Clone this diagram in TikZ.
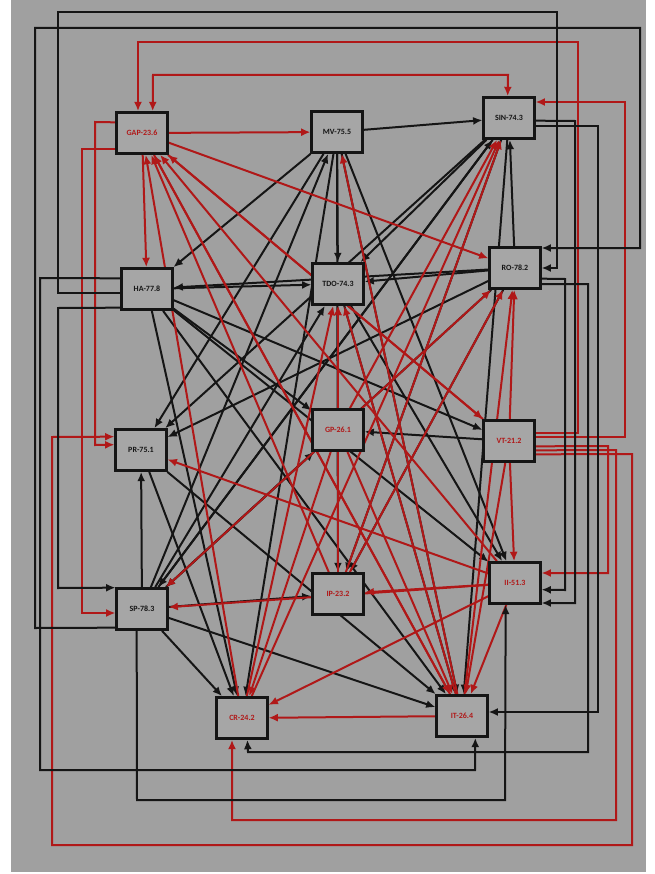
\documentclass[tikz,border=0pt]{standalone}
\usepackage{fontspec}
\setmainfont{Carlito}
\usetikzlibrary{arrows.meta,backgrounds}
\definecolor{bg}{HTML}{A0A0A0}
\definecolor{bx}{HTML}{A6A6A6}
\definecolor{rd}{HTML}{B01818}
\definecolor{bk}{HTML}{151515}
\begin{document}
\begin{tikzpicture}[x=0.75pt,y=-0.75pt,
  box/.style={draw=bk,line width=1.8pt,fill=bx,minimum width=38pt,minimum height=31pt,inner sep=0pt,font=\fontsize{6}{7}\selectfont\bfseries},
  bn/.style={box,text=bk},
  rn/.style={box,text=rd},
  be/.style={draw=bk,line width=1.5pt,-{Latex[length=7pt,width=6pt]}},
  re/.style={draw=rd,line width=1.5pt,-{Latex[length=7pt,width=6pt]}},
  rb/.style={draw=rd,line width=1.5pt,{Latex[length=7pt,width=6pt]}-{Latex[length=7pt,width=6pt]}}]
\useasboundingbox (0,0) rectangle (655,874);

\node[rn] (gap) at (142,133) {GAP-23.6};
\node[bn] (mv)  at (337,132) {MV-75.5};
\node[bn] (sin) at (509,118) {SIN-74.3};
\node[bn] (ha)  at (147,289) {HA-77.8};
\node[bn] (tdo) at (338,284) {TDO-74.3};
\node[bn] (ro)  at (515,268) {RO-78.2};
\node[bn] (pr)  at (141,450) {PR-75.1};
\node[rn] (gp)  at (338,430) {GP-26.1};
\node[rn] (vt)  at (509,441) {VT-21.2};
\node[bn] (sp)  at (142,609) {SP-78.3};
\node[rn] (ip)  at (338,594) {IP-23.2};
\node[rn] (ii)  at (515,583) {II-51.3};
\node[rn] (cr)  at (242,718) {CR-24.2};
\node[rn] (it)  at (462,716) {IT-26.4};

\begin{scope}[on background layer]
\fill[white] (0,0) rectangle (655,874);
\fill[bg] (11,0) rectangle (646,872);

% black straight connectors
\foreach \a/\b in {mv/tdo,mv/sin,mv/ha,mv/pr,mv/ip,mv/cr,mv/it,mv/ii,
  ha/tdo,ha/gp,ha/vt,ha/ii,ha/it,ha/cr,
  tdo/it,tdo/ii,
  ro/tdo,ro/sin,ro/pr,ro/sp,ro/ip,ro/ha,
  sin/tdo,sin/pr,sin/sp,sin/it,sin/ip,
  pr/cr,pr/it,
  sp/pr,sp/cr,sp/it,sp/ip,sp/mv,sp/tdo,sp/gp,sp/sin,
  vt/gp}
  \draw[be] (\a) -- (\b);

% red straight connectors
\foreach \a/\b in {gap/mv,gap/ha,gap/ro,gap/vt,gap/it,
  gp/tdo,gp/sin,gp/sp,gp/cr,gp/it,gp/ro,
  vt/ro,vt/ii,vt/it,vt/gap,
  ip/sin,ip/ro,ip/gap,ip/tdo,
  ii/pr,ii/sp,ii/cr,ii/ip,ii/gap,ii/it,
  cr/gap,cr/tdo,cr/sin,
  it/cr,it/gap,it/mv,it/ro,it/tdo}
  \draw[re] (\a) -- (\b);

% red routed connectors
\draw[re] ([yshift=6pt]vt.east) -- (578,433) -- (578,42) -- (138,42) -- ([xshift=-3pt]gap.north);
\draw[rb] ([xshift=8pt]gap.north) -- (153,75) -- (508,75) -- ([xshift=-1pt]sin.north);
\draw[re] ([yshift=3pt]vt.east) -- (625,437) -- (625,102) -- ([yshift=12pt]sin.east);
\draw[re] ([yshift=-4pt]vt.east) -- (608,446) -- (608,573) -- ([yshift=7.5pt]ii.east);
\draw[re] ([yshift=-7pt]vt.east) -- (616,450) -- (616,820) -- (232,820) -- ([xshift=-7.5pt]cr.south);
\draw[re] ([yshift=-10pt]vt.east) -- (632,454) -- (632,845) -- (52,845) -- (52,437) -- ([yshift=10pt]pr.west);
\draw[re] ([yshift=8pt]gap.west) -- (95,122) -- (95,445) -- ([yshift=4pt]pr.west);
\draw[re] ([yshift=-12pt]gap.west) -- (82,149) -- (82,613) -- ([yshift=-3pt]sp.west);

% black routed connectors
\draw[be] ([yshift=-14pt]sp.west) -- (35,628) -- (35,28) -- (640,28) -- (640,248) -- ([yshift=15pt]ro.east);
\draw[be] ([yshift=-3pt]ha.west) -- (58,293) -- (58,12) -- (557,12) -- (557,268) -- (ro.east);
\draw[be] ([yshift=-14pt]ha.west) -- (58,308) -- (58,588) -- ([yshift=16pt]sp.west);
\draw[be] ([yshift=8pt]ha.west) -- (40,278) -- (40,770) -- (475,770) -- ([xshift=10pt]it.south);
\draw[be] ([yshift=-2pt]sin.east) -- (575,121) -- (575,603) -- ([yshift=-15pt]ii.east);
\draw[be] ([yshift=-6pt]sin.east) -- (598,126) -- (598,712) -- ([yshift=3pt]it.east);
\draw[be] ([yshift=-8pt]ro.east) -- (565,279) -- (565,590) -- ([yshift=-5pt]ii.east);
\draw[be] ([yshift=-12pt]ro.east) -- (588,284) -- (588,752) -- (248,752) -- ([xshift=4pt]cr.south);
\draw[be] ([xshift=-4pt]sp.south) -- (137,800) -- (505,800) -- ([xshift=-7pt]ii.south);
\end{scope}
\end{tikzpicture}
\end{document}
